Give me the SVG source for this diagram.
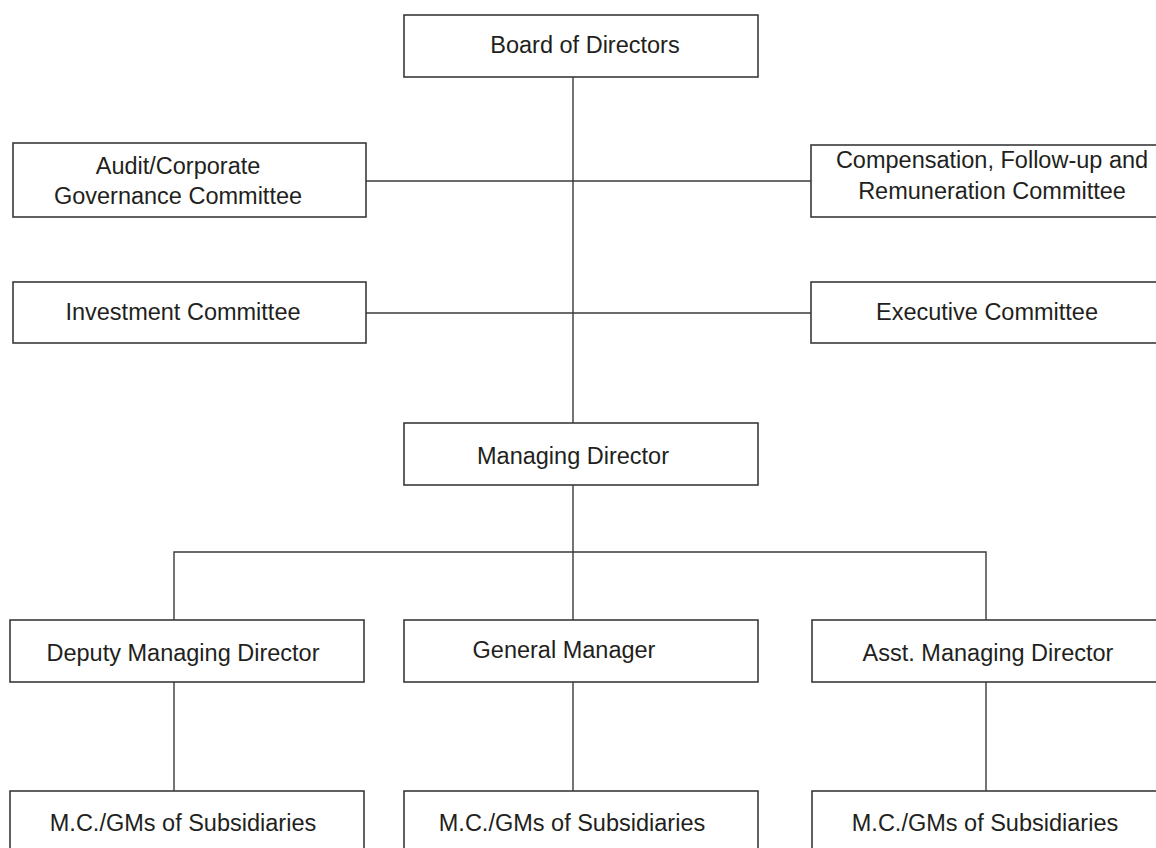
<svg xmlns="http://www.w3.org/2000/svg" width="1156" height="848" viewBox="0 0 1156 848">
<style>
.box{fill:#fff;stroke:#3a3a3a;stroke-width:1.6}
.ln{fill:none;stroke:#3a3a3a;stroke-width:1.4}
text{font-family:"Liberation Sans",Arial,sans-serif;font-size:23.5px;fill:#231f20;text-anchor:middle}
</style>
<rect width="1156" height="848" fill="#fff"/>
<g id="connectors">
<line class="ln" x1="573" y1="77" x2="573" y2="423"/>
<line class="ln" x1="366" y1="181" x2="811" y2="181"/>
<line class="ln" x1="366" y1="313" x2="811" y2="313"/>
<line class="ln" x1="573" y1="485" x2="573" y2="620"/>
<polyline class="ln" points="174,620 174,552 986,552 986,620"/>
<line class="ln" x1="174" y1="682" x2="174" y2="791"/>
<line class="ln" x1="573" y1="682" x2="573" y2="791"/>
<line class="ln" x1="986" y1="682" x2="986" y2="791"/>
</g>
<g id="board"><rect class="box" x="404" y="15" width="354" height="62"/><text x="585" y="53">Board of Directors</text></g>
<g id="audit"><rect class="box" x="13" y="143" width="353" height="74"/><text x="178" y="174">Audit/Corporate</text><text x="178" y="204">Governance Committee</text></g>
<g id="compensation"><rect class="box" x="811" y="145" width="360" height="72"/><text x="992" y="168">Compensation, Follow-up and</text><text x="992" y="199">Remuneration Committee</text></g>
<g id="investment"><rect class="box" x="13" y="282" width="353" height="61"/><text x="183" y="320">Investment Committee</text></g>
<g id="executive"><rect class="box" x="811" y="282" width="360" height="61"/><text x="987" y="320">Executive Committee</text></g>
<g id="md"><rect class="box" x="404" y="423" width="354" height="62"/><text x="573" y="464">Managing Director</text></g>
<g id="dmd"><rect class="box" x="10" y="620" width="354" height="62"/><text x="183" y="661">Deputy Managing Director</text></g>
<g id="gm"><rect class="box" x="404" y="620" width="354" height="62"/><text x="564" y="658">General Manager</text></g>
<g id="amd"><rect class="box" x="812" y="620" width="360" height="62"/><text x="988" y="661">Asst. Managing Director</text></g>
<g id="sub1"><rect class="box" x="10" y="791" width="354" height="70"/><text x="183" y="831">M.C./GMs of Subsidiaries</text></g>
<g id="sub2"><rect class="box" x="404" y="791" width="354" height="70"/><text x="572" y="831">M.C./GMs of Subsidiaries</text></g>
<g id="sub3"><rect class="box" x="812" y="791" width="360" height="70"/><text x="985" y="831">M.C./GMs of Subsidiaries</text></g>
</svg>
